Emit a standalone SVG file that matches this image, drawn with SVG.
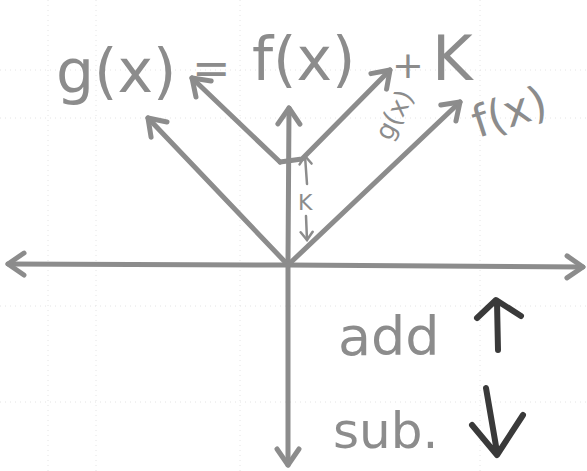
<svg xmlns="http://www.w3.org/2000/svg" width="587" height="471" viewBox="0 0 587 471">
<style>
.ln{fill:none;stroke:#8c8c8c;stroke-width:5;stroke-linecap:round;stroke-linejoin:round}
.dk{fill:none;stroke:#3a3a3a;stroke-width:6;stroke-linecap:round;stroke-linejoin:round}
.tx{font-family:"DejaVu Sans","Noto Sans",sans-serif;fill:#8c8c8c}
.grid{stroke:#e4e4e4;stroke-width:1;stroke-dasharray:1 4}
</style>
<defs>
<marker id="ah" markerUnits="userSpaceOnUse" viewBox="-20 -14 24 28" refX="0" refY="0" markerWidth="24" markerHeight="28" orient="auto">
<path d="M-16,-11 L0,0 L-16,11" fill="none" stroke="#8c8c8c" stroke-width="5" stroke-linecap="round" stroke-linejoin="round"/>
</marker>
<marker id="ahs" markerUnits="userSpaceOnUse" viewBox="-12 -8 14 16" refX="0" refY="0" markerWidth="14" markerHeight="16" orient="auto">
<path d="M-8,-6 L0,0 L-8,6" fill="none" stroke="#8c8c8c" stroke-width="2.5" stroke-linecap="round"/>
</marker>
</defs>
<rect width="587" height="471" fill="#ffffff"/>
<g id="grid">
<line class="grid" x1="0" y1="70" x2="587" y2="70"/>
<line class="grid" x1="0" y1="118" x2="587" y2="118"/>
<line class="grid" x1="0" y1="306" x2="587" y2="306"/>
<line class="grid" x1="0" y1="402" x2="587" y2="402"/>
<line class="grid" x1="48" y1="0" x2="48" y2="471"/>
<line class="grid" x1="96" y1="0" x2="96" y2="471"/>
<line class="grid" x1="240" y1="0" x2="240" y2="471"/>
<line class="grid" x1="480" y1="0" x2="480" y2="471"/>
</g>
<g id="connectors">
<line class="ln" x1="288" y1="265" x2="8" y2="264" marker-end="url(#ah)"/>
<line class="ln" x1="288" y1="265" x2="583" y2="267" marker-end="url(#ah)"/>
<line class="ln" x1="288" y1="262" x2="288" y2="465" marker-end="url(#ah)"/>
<line class="ln" x1="288" y1="262" x2="289" y2="108" marker-end="url(#ah)"/>
<line class="ln" x1="288" y1="265" x2="148" y2="118" marker-end="url(#ah)"/>
<line class="ln" x1="288" y1="265" x2="460" y2="102" marker-end="url(#ah)"/>
<polyline class="ln" points="280,162 192,78" marker-end="url(#ah)"/>
<polyline class="ln" points="280,162 302,159 390,70" marker-end="url(#ah)"/>
<line class="ln" style="stroke-width:2.5" x1="307" y1="184" x2="305" y2="156" marker-end="url(#ahs)"/>
<line class="ln" style="stroke-width:2.5" x1="306" y1="216" x2="307" y2="240" marker-end="url(#ahs)"/>
</g>
<g id="title">
<text class="tx" x="56" y="92" font-size="60">g(x)</text>
<text class="tx" x="192" y="84" font-size="46">=</text>
<text class="tx" x="252" y="80" font-size="60">f(x)</text>
<text class="tx" x="392" y="78" font-size="38">+</text>
<text class="tx" x="432" y="80" font-size="62">K</text>
</g>
<g id="labels">
<text class="tx" x="0" y="0" font-size="26" transform="translate(390,142) rotate(-62)">g(x)</text>
<text class="tx" x="0" y="0" font-size="44" transform="translate(478,138) rotate(-18)">f(x)</text>
<text class="tx" x="298" y="210" font-size="22">K</text>
</g>
<g id="legend">
<text class="tx" x="338" y="355" font-size="54">add</text>
<path class="dk" d="M498,350 L497,302 M477,318 L496,300 L521,316"/>
<text class="tx" x="333" y="448" font-size="50">sub.</text>
<path class="dk" d="M486,388 L497,452 M472,425 L497,455 L523,415"/>
</g>
</svg>
